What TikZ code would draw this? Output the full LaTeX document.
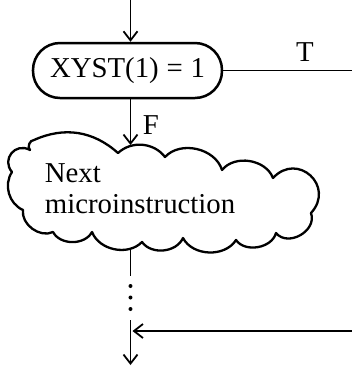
\documentclass[tikz,border=0pt]{standalone}
\usepackage{fontspec}
\setmainfont{Liberation Serif}
\usetikzlibrary{arrows.meta}
\begin{document}
\begin{tikzpicture}[x=0.5pt,y=0.5pt,
  line width=0.9pt,
  tip/.style={-{Straight Barb[length=4.5pt,width=7pt,line width=0.9pt]}},
  lbl/.style={font=\fontsize{14.4}{16}\selectfont, inner sep=0pt},
  decision/.style={draw, line width=1.25pt, rounded corners=13.5pt, minimum width=94.5pt, minimum height=27.5pt, inner sep=0pt},
  cloudline/.style={line width=1.15pt, line join=round},
  dotmark/.style={circle, fill, inner sep=0pt, minimum size=2pt}]
\useasboundingbox (0,0) rectangle (352,-366);
% decision
\coordinate (in) at (130.5,0);
\node[decision, lbl] (cond) at (127.5,-70.5) {XYST(1)\hspace{0.27em}=\hspace{0.27em}1};
\draw[tip] (in) -- (in |- cond.north);
\coordinate (tend) at (352,-70.5);
\draw (cond.east) -- (tend);
\node[lbl] (T) at (305,-52) {T};
% false branch
\coordinate (cloudtop) at (130.5,-145);
\draw[tip] (cond.south -| in) -- (cloudtop);
\node[lbl] (F) at (151,-125) {F};
% cloud
\draw[cloudline] (12,-172) to[bend left=80, looseness=1.5] (30,-150)
  to[bend left=70] (34,-140)
  to[bend left=33] (118,-153)
  to[bend left=48] (165,-157)
  to[bend left=60] (222,-170)
  to[bend left=60] (273,-178)
  to[bend left=90, looseness=1.8] (311,-213)
  to[bend left=80, looseness=1.2] (276,-233)
  to[bend left=65] (236,-240)
  to[bend left=60] (183,-238)
  to[bend left=60] (142,-242)
  to[bend left=57] (92,-232)
  to[bend left=62] (53,-232)
  to[bend left=62] (23,-210)
  to[bend left=50] (12,-172) -- cycle;
\node[lbl, anchor=base west] (next) at (44,-182) {Next};
\node[lbl, anchor=base west] (micro) at (44,-213) {microinstruction};
% continuation
\coordinate (cloudbot) at (130.5,-248);
\coordinate (d1) at (130.5,-276);
\draw (cloudbot) -- (d1);
\node[dotmark] (dot1) at (130.5,-286) {};
\node[dotmark] (dot2) at (130.5,-297.5) {};
\node[dotmark] (dot3) at (130.5,-309) {};
\coordinate (d2) at (130.5,-320);
\coordinate (out) at (130.5,-365);
\draw[tip] (d2) -- (out);
\coordinate (ret) at (352,-331);
\draw[tip, line width=0.7pt, shorten >=1pt] (ret) -- (ret -| out);
\end{tikzpicture}
\end{document}
